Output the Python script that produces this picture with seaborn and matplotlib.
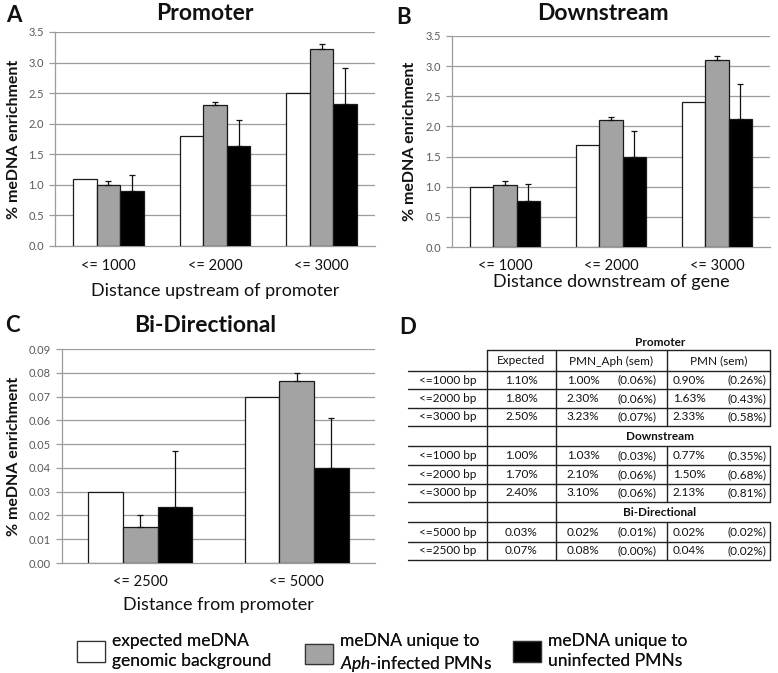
import numpy as np
import pandas as pd
import matplotlib
matplotlib.use("Agg")
import matplotlib.pyplot as plt
from matplotlib.patches import Patch
import seaborn as sns

# ---------------- data ----------------
series = ["expected meDNA\ngenomic background",
          "meDNA unique to\n$\\it{Aph}$-infected PMNs",
          "meDNA unique to\nuninfected PMNs"]
colors = ["#ffffff", "#a3a3a3", "#000000"]

prom_cats = ["<= 1000", "<= 2000", "<= 3000"]
prom_expected = [1.10, 1.80, 2.50]
prom_aph = [1.00, 2.30, 3.23]
prom_aph_err = [0.06, 0.06, 0.07]
prom_pmn = [0.90, 1.63, 2.33]
prom_pmn_err = [0.26, 0.43, 0.58]

down_cats = ["<= 1000", "<= 2000", "<= 3000"]
down_expected = [1.00, 1.70, 2.40]
down_aph = [1.03, 2.10, 3.10]
down_aph_err = [0.06, 0.06, 0.07]
down_pmn = [0.77, 1.50, 2.13]
down_pmn_err = [0.27, 0.43, 0.58]

bi_cats = ["<= 2500", "<= 5000"]
bi_expected = [0.030, 0.070]
bi_aph = [0.015, 0.0765]
bi_aph_err = [0.005, 0.0035]
bi_pmn = [0.0235, 0.040]
bi_pmn_err = [0.0235, 0.021]

# table D
tbl_sections = ["Promoter", "Downstream", "Bi-Directional"]
tbl_rows = [["<=1000 bp", "<=2000 bp", "<=3000 bp"],
            ["<=1000 bp", "<=2000 bp", "<=3000 bp"],
            ["<=5000 bp", "<=2500 bp"]]
tbl_expected = [[1.10, 1.80, 2.50], [1.00, 1.70, 2.40], [0.03, 0.07]]
tbl_aph = [[1.00, 2.30, 3.23], [1.03, 2.10, 3.10], [0.02, 0.08]]
tbl_aph_sem = [[0.06, 0.06, 0.07], [0.03, 0.06, 0.06], [0.01, 0.00]]
tbl_pmn = [[0.90, 1.63, 2.33], [0.77, 1.50, 2.13], [0.02, 0.04]]
tbl_pmn_sem = [[0.26, 0.43, 0.58], [0.35, 0.68, 0.81], [0.02, 0.02]]
tbl_header = ["Expected", "PMN_Aph (sem)", "PMN (sem)"]

# ---------------- style ----------------
sns.set_theme(style="white")
plt.rcParams["font.family"] = ["Lato", "DejaVu Sans"]
plt.rcParams["mathtext.fontset"] = "custom"
plt.rcParams["mathtext.rm"] = "Lato"
plt.rcParams["mathtext.it"] = "Lato:italic"
plt.rcParams["mathtext.bf"] = "Lato:bold"

W, H = 778, 673
fig = plt.figure(figsize=(W / 100, H / 100), dpi=100)
fig.patch.set_facecolor("white")

GRID = "#9c9c9c"
INK = "#111111"


def px_axes(l, t, r, b):
    return fig.add_axes([l / W, 1 - b / H, (r - l) / W, (b - t) / H])


def panel(ax, cats, exp, aph, aph_err, pmn, pmn_err, ymax, ystep, fmt,
          xlabel, xl_y, yl_x):
    df = pd.DataFrame({
        "cat": cats * 3,
        "val": list(exp) + list(aph) + list(pmn),
        "series": [series[0]] * len(cats) + [series[1]] * len(cats) + [series[2]] * len(cats),
    })
    sns.barplot(data=df, x="cat", y="val", hue="series", hue_order=series,
                palette=colors, width=0.665, edgecolor="#1a1a1a", linewidth=0.9,
                saturation=1, legend=False, ax=ax, zorder=3)
    errs = [None, aph_err, pmn_err]
    for cont, e in zip(ax.containers, errs):
        if e is None:
            continue
        xs = [b.get_x() + b.get_width() / 2 for b in cont]
        ys = [b.get_height() for b in cont]
        ax.errorbar(xs, ys, yerr=[np.zeros(len(e)), e], fmt="none",
                    ecolor=INK, elinewidth=0.9, capsize=2.5,
                    capthick=0.9, zorder=4)
    ax.set_ylim(0, ymax)
    ticks = np.arange(0, ymax + ystep / 2, ystep)
    ax.set_yticks(ticks)
    ax.set_yticklabels([fmt.format(t) for t in ticks], color="#5a5a5a", fontsize=8)
    for t in ticks[1:]:
        ax.axhline(t, color=GRID, lw=0.9, zorder=1)
    ax.set_xlim(-0.5, len(cats) - 0.5)
    ax.set_xticks(range(len(cats)))
    ax.set_xticklabels(cats, fontsize=10.5, color=INK)
    ax.set_xticks(np.arange(-0.5, len(cats), 1.0), minor=True)
    ax.tick_params(axis="x", which="major", length=0, pad=9)
    ax.tick_params(axis="x", which="minor", length=4, color=GRID, width=0.9)
    ax.tick_params(axis="y", length=4, color=GRID, width=0.9, pad=4, left=True)
    for s in ["top", "right"]:
        ax.spines[s].set_visible(False)
    for s in ["left", "bottom"]:
        ax.spines[s].set_color(GRID)
        ax.spines[s].set_linewidth(0.9)
    ax.set_xlabel(xlabel, fontsize=13, color=INK)
    ax.set_ylabel("% meDNA enrichment", fontsize=11.5, fontweight="bold", color=INK)
    ax.xaxis.set_label_coords(0.5, xl_y)
    ax.yaxis.set_label_coords(yl_x, 0.5)
    ax.set_facecolor("white")


axA = px_axes(55, 32, 375, 246)
panel(axA, prom_cats, prom_expected, prom_aph, prom_aph_err, prom_pmn, prom_pmn_err,
      3.5, 0.5, "{:.1f}", "Distance upstream of promoter", -0.175, -0.106)
axB = px_axes(452, 36, 770, 247)
panel(axB, down_cats, down_expected, down_aph, down_aph_err, down_pmn, down_pmn_err,
      3.5, 0.5, "{:.1f}", "Distance downstream of gene", -0.13, -0.11)
axC = px_axes(62, 349, 375, 563)
panel(axC, bi_cats, bi_expected, bi_aph, bi_aph_err, bi_pmn, bi_pmn_err,
      0.09, 0.01, "{:.2f}", "Distance from promoter", -0.16, -0.131)

# overlay axes in pixel coordinates for titles, letters and table
ov = fig.add_axes([0, 0, 1, 1], facecolor="none")
ov.set_xlim(0, W)
ov.set_ylim(H, 0)
ov.axis("off")

for txt, x, y in [("Promoter", 205, 13), ("Downstream", 603, 14), ("Bi-Directional", 205, 325)]:
    ov.text(x, y, txt, ha="center", va="center", fontsize=16.5, fontweight="bold", color=INK)
for txt, x, y in [("A", 14, 15), ("B", 404, 18), ("C", 12, 326), ("D", 408, 328)]:
    ov.text(x, y, txt, ha="center", va="center", fontsize=16, fontweight="bold", color=INK)

# ---- table D ----
TL = "#222222"
LW = 1.0
xL, x1, x2, x3, xR = 408, 487, 556, 667, 770
fs_t = 8.5
ov.plot([x1, xR], [350, 350], color=TL, lw=LW)
ov.text(660, 342, tbl_sections[0], ha="center", va="center", fontsize=fs_t, fontweight="bold", color=INK)
ov.text((x1 + x2) / 2, 361, tbl_header[0], ha="center", va="center", fontsize=fs_t, color=INK)
ov.text((x2 + x3) / 2, 361, tbl_header[1], ha="center", va="center", fontsize=fs_t, color=INK)
ov.text((x3 + xR) / 2, 361, tbl_header[2], ha="center", va="center", fontsize=fs_t, color=INK)
ov.plot([x1, x1], [350, 560], color=TL, lw=LW)
ov.plot([x2, x2], [350, 560], color=TL, lw=LW)

row_lines = [[371, 389, 408, 426], [446, 465, 484, 502], [522, 542, 560]]
sec_y = [None, 436, 512]
ov.plot([x3, x3], [350, 371], color=TL, lw=LW)
ov.plot([xR, xR], [350, 371], color=TL, lw=LW)
for si in range(3):
    lines = row_lines[si]
    if sec_y[si] is not None:
        ov.text(660, sec_y[si], tbl_sections[si], ha="center", va="center",
                fontsize=fs_t, fontweight="bold", color=INK)
    for yy in lines:
        ov.plot([xL, xR], [yy, yy], color=TL, lw=LW)
    ov.plot([x3, x3], [lines[0], lines[-1]], color=TL, lw=LW)
    ov.plot([xR, xR], [lines[0], lines[-1]], color=TL, lw=LW)
    for ri in range(len(tbl_rows[si])):
        yc = (lines[ri] + lines[ri + 1]) / 2
        kw = dict(ha="center", va="center", fontsize=fs_t, color=INK)
        ov.text((xL + x1) / 2, yc, tbl_rows[si][ri], **kw)
        ov.text((x1 + x2) / 2, yc, f"{tbl_expected[si][ri]:.2f}%", **kw)
        ov.text(583, yc, f"{tbl_aph[si][ri]:.2f}%", **kw)
        ov.text(637, yc, f"({tbl_aph_sem[si][ri]:.2f}%)", **kw)
        ov.text(689, yc, f"{tbl_pmn[si][ri]:.2f}%", **kw)
        ov.text(747, yc, f"({tbl_pmn_sem[si][ri]:.2f}%)", **kw)

# ---- legend: one entry per block, placed like the reference ----
leg_fs = 12.5
fs_px = leg_fs * 100 / 72
leg_x = [77, 305, 513]
for i, (c, lab) in enumerate(zip(colors, series)):
    h = Patch(facecolor=c, edgecolor="#333333", linewidth=0.9)
    lg = fig.legend([h], [lab], loc="upper left",
                    bbox_to_anchor=(leg_x[i] / W, 1 - 633 / H), frameon=False,
                    fontsize=leg_fs, borderpad=0, borderaxespad=0,
                    handlelength=28 / fs_px, handleheight=25 / fs_px,
                    handletextpad=0.4, labelspacing=0.1)
    for t in lg.get_texts():
        t.set_color(INK)
        t.set_linespacing(1.3)
    fig.add_artist(lg)

fig.savefig("out.png", dpi=100, facecolor="white")
